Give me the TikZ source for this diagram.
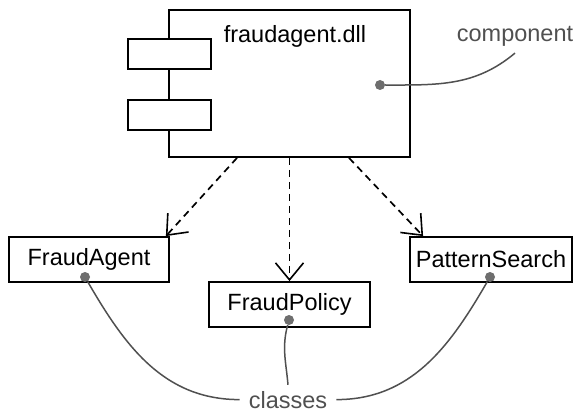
\documentclass[tikz,border=0pt]{standalone}
\usepackage{fontspec}
\setmainfont{Liberation Sans}
\usepackage{tikz}
\definecolor{notegray}{RGB}{80,80,80}
\definecolor{dotgray}{RGB}{110,110,110}
\usetikzlibrary{arrows.meta,positioning,calc}

\begin{document}
\begin{tikzpicture}[x=1pt,y=1pt]
  \tikzstyle{classbox}=[rectangle,draw=black,fill=white,line width=1.8pt,minimum height=45pt,inner sep=0pt,font=\fontsize{23.5}{26}\selectfont]
  \tikzstyle{portbox}=[rectangle,draw=black,fill=white,line width=1.8pt,minimum width=83pt,minimum height=30pt,inner sep=0pt]
  \tikzstyle{dep}=[-{Straight Barb[length=17pt,width=28pt,line width=1.6pt]},dash pattern=on 7pt off 5pt,line width=1.7pt]
  \tikzstyle{notedot}=[circle,fill=dotgray,inner sep=0pt,minimum size=10pt]
  \tikzstyle{noteline}=[notegray,line width=1.5pt]
  \tikzstyle{notetext}=[text=notegray,inner xsep=9pt,inner ysep=6pt,font=\fontsize{23.5}{26}\selectfont]
  \useasboundingbox (0,0) rectangle (576,416);

  % component with two ports
  \node[rectangle,draw=black,line width=1.8pt,minimum width=241pt,minimum height=147pt] (comp) at (289.5,332.5) {};
  \node[portbox] (port1) at (169.5,362) {};
  \node[portbox] (port2) at (169.5,301) {};
  \node[anchor=base,font=\fontsize{23.5}{26}\selectfont] (title) at (295,373) {fraudagent.dll};
  \node[notedot] (compdot) at (380,331) {};
  \node[notetext,anchor=base] (compnote) at (515,374) {component};
  \draw[noteline] (compdot) to[out=0,in=-140] (compnote.south);

  % classes
  \node[classbox,minimum width=160pt] (agent) at (89,156.5) {FraudAgent};
  \node[classbox,minimum width=161pt] (policy) at (289.5,111.5) {FraudPolicy};
  \node[classbox,minimum width=162pt] (search) at (491,156.5) {PatternSearch};
  \draw[dep] ($(comp.south)+(-52.5,0)$) -- ($(agent.north east)+(-4,0)$);
  \draw[dep] (comp.south) -- (policy.north);
  \draw[dep] ($(comp.south)+(59.5,0)$) -- ($(search.north west)+(14,0)$);

  \node[notedot] (agentdot) at (85,139) {};
  \node[notedot] (policydot) at (289,96) {};
  \node[notedot] (searchdot) at (490,139) {};
  \node[notetext,anchor=base] (clsnote) at (288,8) {classes};
  \draw[noteline] (agentdot) to[out=-60,in=180] (clsnote.west);
  \draw[noteline] (policydot) to[out=-105,in=95] (clsnote.north);
  \draw[noteline] (searchdot) to[out=-120,in=0] (clsnote.east);
\end{tikzpicture}
\end{document}
